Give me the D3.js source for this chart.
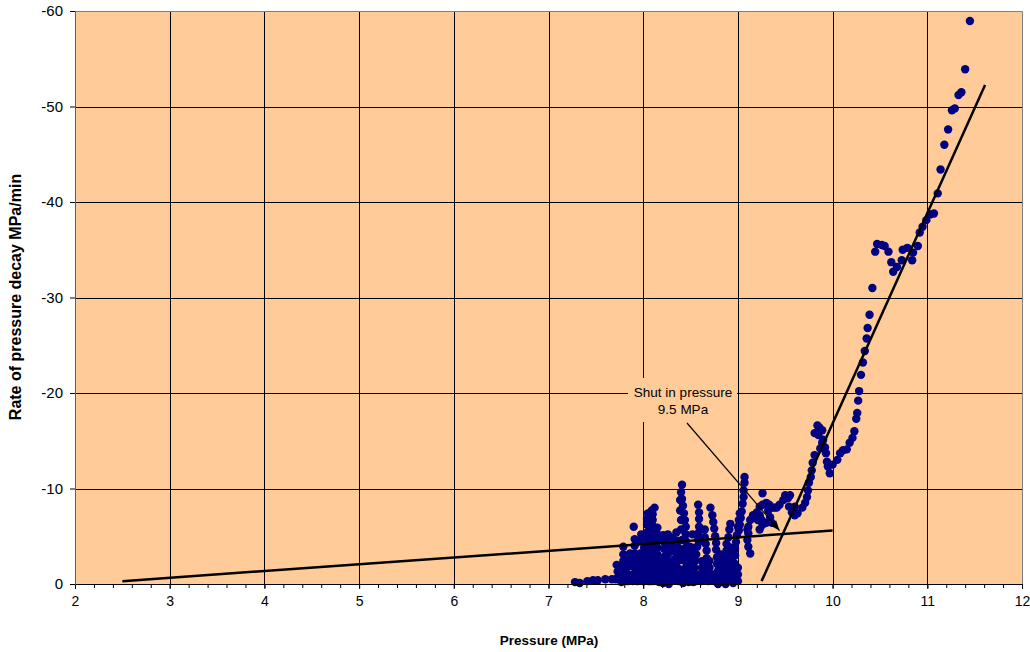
<!DOCTYPE html>
<html>
<head>
<meta charset="utf-8">
<script src="https://cdn.jsdelivr.net/npm/d3@7"></script>
<style>
  html, body { margin: 0; padding: 0; background: #ffffff; }
  svg { display: block; font-family: "Liberation Sans", Arial, sans-serif; }
</style>
</head>
<body>
<svg id="chart" width="1030" height="652"></svg>
<script>
// Axis ticks
const xTicks = [2, 3, 4, 5, 6, 7, 8, 9, 10, 11, 12];
const yTicks = [0, -10, -20, -30, -40, -50, -60];

// Measured decay rate vs pressure, [pressure MPa, rate MPa/min]
const lowPressurePoints = [
  [7.28,-0.2],[7.33,-0.1],[7.41,-0.3],[7.47,-0.4],[7.52,-0.4],[7.60,-0.5],[7.67,-0.5],[7.73,-0.6],
  [7.72,-2.0],[7.73,-1.3],[7.71,-0.5],
  [7.79,-3.9],[7.79,-3.1],[7.79,-2.4],[7.78,-1.7],[7.77,-0.9],[7.77,-0.2],
  [7.86,-3.2],[7.85,-2.5],[7.84,-1.8],[7.84,-1.0],[7.84,-0.3],
  [7.90,-6.0],[7.91,-4.7],[7.91,-4.0],[7.91,-3.2],[7.90,-2.5],[7.90,-1.8],[7.89,-1.0],[7.89,-0.3],
  [7.97,-3.2],[7.97,-2.5],[7.98,-1.8],[7.99,-1.0],[7.99,-0.3],
  [8.05,-7.4],[8.04,-6.8],[8.04,-6.2],[8.04,-5.4],[8.04,-4.7],[8.04,-4.0],[8.04,-3.2],[8.05,-2.5],[8.05,-1.8],[8.06,-1.0],[8.06,-0.3],
  [8.12,-8.0],[8.09,-7.7],[8.10,-7.3],[8.10,-6.7],[8.11,-6.0],[8.10,-5.4],[8.10,-4.8],[8.10,-4.2],[8.10,-3.6],[8.11,-2.9],[8.12,-2.3],[8.12,-1.7],[8.11,-1.0],[8.10,-0.3],
  [8.16,-0.9],[8.17,-0.2]
];

const midPressurePoints = [
  [8.21,-5.1],[8.22,-4.4],[8.22,-3.7],[8.23,-2.9],[8.23,-2.2],[8.23,-1.5],[8.22,-0.7],[8.21,-0.1],
  [8.28,-4.9],[8.27,-1.5],[8.27,-0.6],[8.27,0.0],
  [8.35,-5.4],[8.31,-4.8],[8.31,-4.1],[8.33,-3.4],[8.33,-2.6],[8.31,-1.9],[8.31,-1.2],[8.33,-0.4],
  [8.41,-10.4],[8.40,-9.6],[8.41,-8.9],[8.42,-8.2],[8.43,-7.4],[8.44,-6.7],[8.45,-6.0],[8.45,-5.2],[8.45,-4.5],[8.45,-3.8],[8.45,-3.0],[8.45,-2.3],[8.44,-1.6],[8.43,-0.8],[8.42,-0.1],
  [8.39,-8.8],[8.39,-7.7],[8.40,-6.7],[8.40,-5.7],[8.41,-4.6],[8.41,-3.6],[8.40,-2.5],[8.39,-1.5],[8.39,-0.4],
  [8.49,-3.9],[8.49,-3.1],[8.49,-2.4],[8.50,-1.7],[8.49,-0.9],[8.48,-0.2],
  [8.58,-8.3],[8.59,-7.5],[8.59,-6.8],[8.59,-6.0],[8.58,-5.3],[8.58,-4.6],[8.57,-3.9],[8.56,-3.1],[8.55,-2.4],[8.54,-1.7],[8.53,-0.9],[8.53,-0.2],
  [8.65,-5.7],[8.65,-4.9],[8.66,-4.2],[8.67,-3.5],[8.67,-2.7],[8.67,-2.0],[8.66,-1.3],[8.65,-0.5],
  [8.71,-8.0],[8.73,-7.2],[8.74,-6.5],[8.75,-5.8],[8.76,-5.0],[8.77,-4.3],[8.77,-3.6],[8.78,-2.8],[8.78,-2.1],[8.79,-1.4],[8.79,-0.6],[8.79,0.0],
  [8.92,-6.3],[8.91,-5.7],[8.90,-4.9],[8.88,-4.2],[8.88,-3.5],[8.87,-2.7],[8.87,-2.0],[8.86,-1.3],[8.86,-0.5],[8.87,0.0],
  [9.02,-7.4],[9.01,-6.7],[9.00,-6.0],[8.99,-5.1],[8.98,-4.4],[8.97,-3.7],[8.97,-3.0],[8.96,-2.2],[8.96,-1.5],[8.95,-0.7],[8.95,-0.1],
  [9.07,-11.2],[9.07,-10.6],[9.06,-9.8],[9.06,-9.1],[9.05,-8.4],[9.04,-7.6],[9.03,-6.9],[9.02,-6.2],[9.01,-5.6]
];

// Dense oscillation readings between the main swings
const oscillationPoints = [
  [7.82,-0.3],[7.94,-0.3],[8.01,-0.3],[8.08,-0.3],[8.14,-0.3],[8.19,-0.3],[8.25,-0.3],[8.29,-0.3],[8.37,-0.3],
  [8.47,-0.3],[8.51,-0.3],[8.56,-0.3],[8.62,-0.3],[8.69,-0.3],[8.75,-0.3],[8.83,-0.3],[8.90,-0.3],[9.00,-0.3],
  [7.81,-1.0],[7.94,-1.0],[8.01,-1.0],[8.08,-1.0],[8.15,-1.0],[8.19,-1.0],[8.25,-1.0],[8.29,-1.0],[8.36,-1.0],
  [8.47,-1.0],[8.51,-1.0],[8.57,-1.0],[8.62,-1.0],[8.70,-1.0],[8.74,-1.0],[8.83,-1.0],[8.90,-1.0],[9.00,-1.0],
  [7.81,-1.7],[7.94,-1.7],[8.01,-1.7],[8.08,-1.7],[8.15,-1.7],[8.19,-1.7],[8.25,-1.7],[8.36,-1.7],
  [8.47,-1.7],[8.52,-1.7],[8.62,-1.7],[8.70,-1.7],[8.83,-1.7],[8.93,-1.7],[9.00,-1.7],
  [7.82,-2.4],[7.94,-2.4],[8.01,-2.4],[8.07,-2.4],[8.15,-2.4],[8.19,-2.4],[8.26,-2.4],[8.36,-2.4],
  [8.47,-2.4],[8.62,-2.4],[8.70,-2.4],[8.82,-2.4],[8.93,-2.4],
  [7.94,-3.1],[8.01,-3.1],[8.07,-3.1],[8.15,-3.1],[8.26,-3.1],[8.37,-3.1],[8.52,-3.1],[8.82,-3.1],[8.93,-3.1],
  [8.01,-3.8],[8.07,-3.8],[8.15,-3.8],[8.26,-3.8],[8.37,-3.8],[8.52,-3.8],[8.93,-3.8],
  [7.97,-4.5],[8.07,-4.5],[8.15,-4.5],[8.26,-4.5],[8.37,-4.5],[8.62,-4.5],
  [7.98,-5.2],[8.07,-5.2],[8.15,-5.2],[8.26,-5.2],[8.52,-5.2],
  [8.15,-5.9],[8.07,-6.0]
];

const highPressurePoints = [
  [11.45,-58.95],[11.40,-53.9],[11.36,-51.5],[11.33,-51.2],[11.29,-49.8],[11.26,-49.6],[11.22,-47.6],[11.18,-46.0],
  [11.14,-43.4],[11.11,-40.9],[11.07,-38.8],[11.03,-38.7],[10.99,-38.1],[10.95,-37.4],[10.92,-36.8],[10.90,-35.4],
  [10.85,-34.7],[10.84,-33.9],[10.79,-35.2],[10.74,-35.0],[10.73,-33.9],[10.68,-33.2],[10.64,-32.7],[10.62,-33.7],
  [10.59,-34.8],[10.55,-35.4],[10.52,-35.5],[10.47,-35.6],[10.45,-34.8],[10.42,-31.0],[10.39,-28.2],[10.37,-26.8],
  [10.36,-25.7],[10.34,-24.4],[10.32,-23.2],[10.30,-21.9],[10.28,-20.2],[10.27,-19.2],[10.26,-17.9],[10.25,-17.3],
  [10.23,-16.0],[10.21,-15.3],[10.18,-14.8],[10.15,-14.1],[10.11,-14.0],[10.08,-13.7],[10.05,-13.0],[10.00,-12.5],
  [9.97,-11.6],[9.95,-12.3],[9.94,-12.8],[9.93,-13.7],[9.92,-14.3],[9.90,-15.1],[9.85,-15.6],[9.81,-15.8],
  [9.84,-16.6],[9.86,-16.4],[9.89,-16.1],[9.89,-14.8],[9.87,-14.2],[9.81,-13.5],[9.79,-12.7],[9.78,-11.9],
  [9.77,-11.2],[9.75,-10.6],[9.74,-9.8],[9.73,-9.1],[9.71,-8.5],[9.68,-8.0],[9.63,-7.4],[9.60,-7.2],
  [9.57,-7.5],[9.54,-8.1],[9.53,-9.0],[9.50,-9.3],[9.48,-8.8],[9.44,-8.3],[9.41,-8.0],[9.37,-8.0],
  [9.33,-8.3],[9.30,-8.5],[9.26,-8.3],[9.26,-9.5],[9.32,-7.7],[9.34,-7.0],[9.36,-6.4],[9.30,-6.4],
  [9.25,-6.7],[9.23,-7.2],[9.20,-7.5],[9.16,-7.2],[9.13,-6.7],[9.11,-6.0],[9.11,-5.3],[9.10,-4.6],
  [9.11,-3.9],[9.13,-3.2],[9.10,-5.7],[9.23,-8.1],[9.39,-8.0],[9.52,-9.0],[9.55,-9.3],[9.60,-8.1],
  [9.21,-6.7],[9.26,-6.2],[9.23,-5.7]
];

// Trend lines fitted to the two regimes
const slowTrend = [[2.5, -0.3], [10.0, -5.6]];
const fastTrend = [[9.25, -0.3], [11.61, -52.25]];

// Annotation
const noteLines = ["Shut in pressure", "9.5 MPa"];
const noteTarget = [9.44, -5.6];

const svg = d3.select("#chart");
const plotLeft = 75, plotRight = 1022, plotTop = 11, plotBottom = 584;

const x = d3.scaleLinear().domain([2, 12]).range([plotLeft, plotRight]);
const y = d3.scaleLinear().domain([0, -60]).range([plotBottom, plotTop]);

// Plot background
svg.append("rect")
  .attr("x", plotLeft).attr("y", plotTop)
  .attr("width", plotRight - plotLeft).attr("height", plotBottom - plotTop)
  .attr("fill", "#FFCC99");

// Gridlines
const crisp = v => Math.round(v) + 0.5;
svg.append("g").selectAll("line").data(xTicks.slice(1, -1)).join("line")
  .attr("x1", d => crisp(x(d))).attr("x2", d => crisp(x(d)))
  .attr("y1", plotTop).attr("y2", plotBottom)
  .attr("stroke", "#000").attr("stroke-width", 1);
svg.append("g").selectAll("line").data(yTicks.slice(1, -1)).join("line")
  .attr("y1", d => crisp(y(d))).attr("y2", d => crisp(y(d)))
  .attr("x1", plotLeft).attr("x2", plotRight)
  .attr("stroke", "#000").attr("stroke-width", 1);

// Plot frame: grey top and right
svg.append("path")
  .attr("d", `M${plotLeft},${crisp(plotTop)}H${crisp(plotRight)}V${plotBottom}`)
  .attr("fill", "none").attr("stroke", "#808080").attr("stroke-width", 1);

// Data points
const allPoints = lowPressurePoints.concat(midPressurePoints, oscillationPoints, highPressurePoints);
svg.append("g").selectAll("circle").data(allPoints).join("circle")
  .attr("cx", d => x(d[0])).attr("cy", d => y(d[1]))
  .attr("r", 4.2).attr("fill", "#000080");

// Trend lines
const lineGen = d3.line().x(d => x(d[0])).y(d => y(d[1]));
[slowTrend, fastTrend].forEach(seg => {
  svg.append("path").attr("d", lineGen(seg))
    .attr("fill", "none").attr("stroke", "#000").attr("stroke-width", 2.5);
});

// Axes
const plainNumber = d => String(d);
const xAxis = d3.axisBottom(x).tickValues(xTicks).tickSize(5).tickFormat(plainNumber);
const xMinor = d3.axisBottom(x).tickValues(d3.range(2, 12.001, 0.2)).tickSize(4).tickFormat("");
const yAxis = d3.axisLeft(y).tickValues(yTicks).tickSize(5).tickFormat(plainNumber);

const gxm = svg.append("g").attr("transform", `translate(0,${plotBottom})`).call(xMinor);
const gx = svg.append("g").attr("transform", `translate(0,${plotBottom})`).call(xAxis);
const gy = svg.append("g").attr("transform", `translate(${plotLeft},0)`).call(yAxis);

[gx, gxm, gy].forEach(g => {
  g.select(".domain").attr("stroke", "#000");
  g.selectAll(".tick line").attr("stroke", "#000");
});
gy.select(".domain").attr("stroke", "#606060");
gx.selectAll(".tick text").attr("font-size", 14).attr("fill", "#000").attr("dy", "1.0em")
  .attr("font-family", "Liberation Sans, Arial, sans-serif");
gy.selectAll(".tick text").attr("font-size", 15).attr("fill", "#000").attr("x", -12)
  .attr("font-family", "Liberation Sans, Arial, sans-serif");

// Axis titles
svg.append("text")
  .attr("x", 549).attr("y", 645)
  .attr("text-anchor", "middle").attr("font-size", 13.5).attr("font-weight", "bold")
  .text("Pressure (MPa)");
svg.append("text")
  .attr("transform", `translate(21,297) rotate(-90)`)
  .attr("text-anchor", "middle").attr("font-size", 16).attr("font-weight", "bold")
  .text("Rate of pressure decay MPa/min");

// Annotation with leader arrow
svg.append("defs").append("marker")
  .attr("id", "arrowhead").attr("viewBox", "0 0 10 10")
  .attr("refX", 10).attr("refY", 5)
  .attr("markerWidth", 10).attr("markerHeight", 10)
  .attr("markerUnits", "userSpaceOnUse")
  .attr("orient", "auto")
  .append("path").attr("d", "M0,1L10,5L0,9Z").attr("fill", "#000");

const noteX = 683, noteY = 397;
svg.append("rect")
  .attr("x", 628).attr("y", 378).attr("width", 109).attr("height", 44)
  .attr("fill", "#FFCC99");
svg.append("text")
  .attr("x", noteX).attr("y", noteY)
  .attr("text-anchor", "middle").attr("font-size", 13.5)
  .selectAll("tspan").data(noteLines).join("tspan")
  .attr("x", noteX).attr("dy", (d, i) => i === 0 ? 0 : 17)
  .text(d => d);

svg.append("line")
  .attr("x1", 687).attr("y1", 423)
  .attr("x2", x(noteTarget[0])).attr("y2", y(noteTarget[1]))
  .attr("stroke", "#000").attr("stroke-width", 1.2)
  .attr("marker-end", "url(#arrowhead)");
</script>
</body>
</html>
